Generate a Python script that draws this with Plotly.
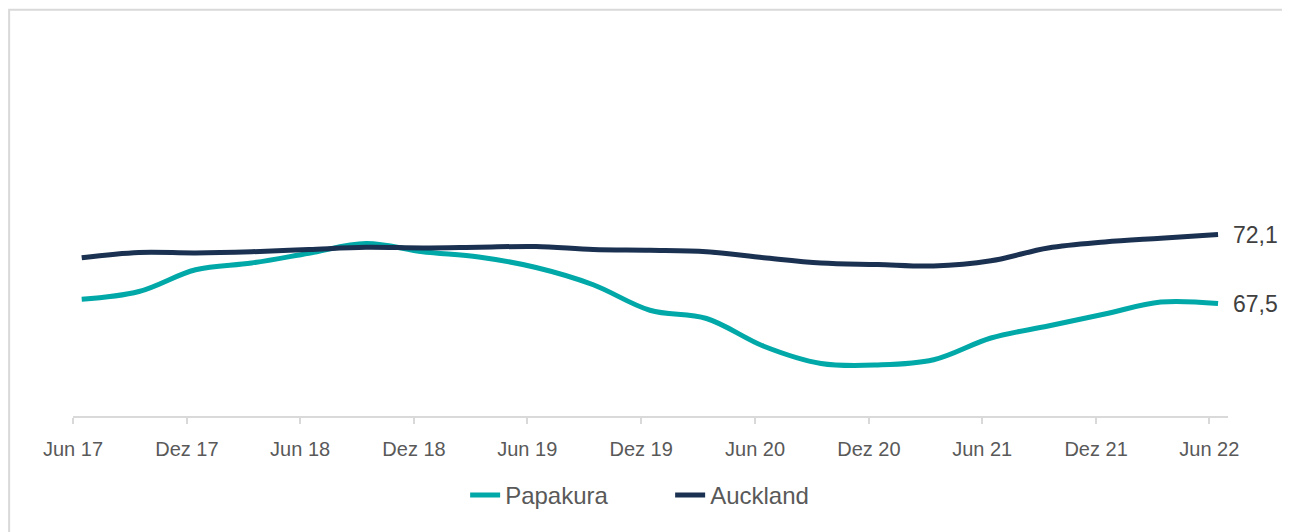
import plotly.graph_objects as go

# quarterly observations, Jun 2017 - Jun 2022
dates = ["2017-06-15", "2017-09-15", "2017-12-15", "2018-03-15", "2018-06-15",
         "2018-09-15", "2018-12-15", "2019-03-15", "2019-06-15", "2019-09-15",
         "2019-12-15", "2020-03-15", "2020-06-15", "2020-09-15", "2020-12-15",
         "2021-03-15", "2021-06-15", "2021-09-15", "2021-12-15", "2022-03-15",
         "2022-06-15"]
papakura = [67.78, 68.3, 69.75, 70.2, 70.85, 71.5, 70.95, 70.6, 69.9, 68.75,
            67.05, 66.5, 64.65, 63.5, 63.4, 63.75, 65.2, 66.0, 66.8, 67.6, 67.5]
auckland = [70.55, 70.9, 70.87, 70.95, 71.1, 71.25, 71.2, 71.25, 71.3, 71.1,
            71.05, 70.95, 70.55, 70.2, 70.1, 70.0, 70.35, 71.2, 71.6, 71.85, 72.1]
end_labels = ["67,5", "72,1"]

tick_vals = ["2017-06-01", "2017-12-01", "2018-06-01", "2018-12-01", "2019-06-01",
             "2019-12-01", "2020-06-01", "2020-12-01", "2021-06-01", "2021-12-01",
             "2022-06-01"]
tick_text = ["Jun 17", "Dez 17", "Jun 18", "Dez 18", "Jun 19", "Dez 19",
             "Jun 20", "Dez 20", "Jun 21", "Dez 21", "Jun 22"]

teal = "#00A8A8"
navy = "#1B3151"

fig = go.Figure()
fig.add_trace(go.Scatter(x=dates, y=papakura, mode="lines", name="Papakura",
                         line=dict(color=teal, width=5, shape="spline")))
fig.add_trace(go.Scatter(x=dates, y=auckland, mode="lines", name="Auckland",
                         line=dict(color=navy, width=5, shape="spline")))

# value labels at the end of each line
for series, label in zip([papakura, auckland], end_labels):
    fig.add_annotation(x=dates[-1], y=series[-1], text=label, showarrow=False,
                       xanchor="left", xshift=13,
                       font=dict(family="Liberation Sans, Arial", size=23, color="#404040"))

# light grey frame around the chart
fig.add_shape(type="rect", xref="paper", yref="paper",
              x0=-0.0553, x1=1.0515, y0=-0.45, y1=1.354,
              line=dict(color="#D9D9D9", width=2))

fig.update_xaxes(range=["2017-06-01", "2022-07-01"], tickvals=tick_vals, ticktext=tick_text,
                 showgrid=False, showline=True, linecolor="#D9D9D9", linewidth=2,
                 ticks="outside", ticklen=6, tickcolor="#D9D9D9", tickwidth=2,
                 ticklabelstandoff=8,
                 tickfont=dict(family="Liberation Sans, Arial", size=20, color="#595959"),
                 zeroline=False)
fig.update_yaxes(range=[60, 80], visible=False)

# page body adds an 8px offset, so the figure is drawn slightly smaller
fig.update_layout(
    width=1282, height=524,
    margin=dict(l=65, r=62, t=108, b=116),
    plot_bgcolor="white", paper_bgcolor="white",
    showlegend=True,
    legend=dict(orientation="h", x=0.517, xanchor="center", y=-0.265, yanchor="middle",
                font=dict(family="Liberation Sans, Arial", size=24, color="#595959"),
                entrywidth=160, tracegroupgap=0),
    hovermode=False,
)

fig.write_html("out.html")
